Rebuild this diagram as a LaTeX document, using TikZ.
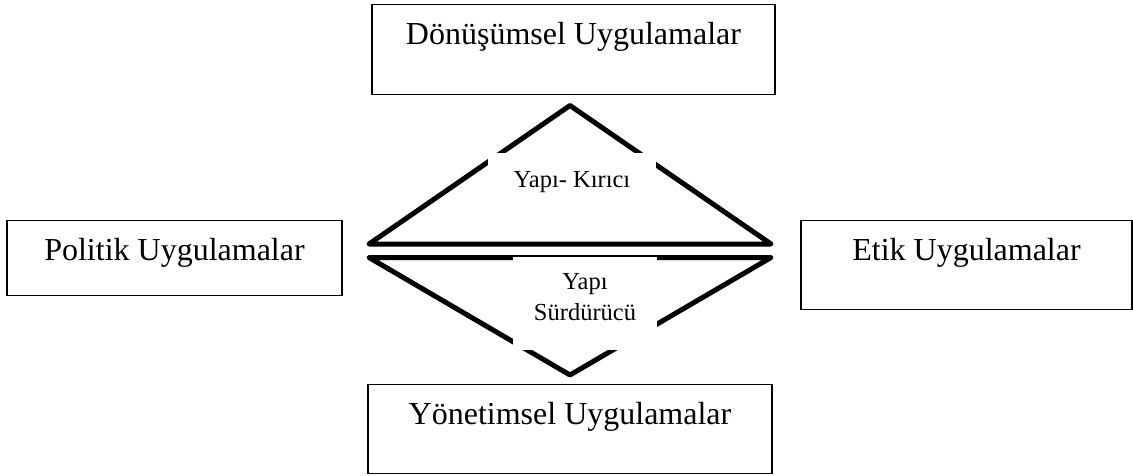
\documentclass[tikz,border=0pt]{standalone}
\usepackage{fontspec}
\setmainfont{Liberation Serif}
\usepackage{tikz}

\begin{document}
\begin{tikzpicture}[
                    x=1pt,
                    y=-1pt,
                    kutu/.style={draw, line width=1.3pt, inner xsep=0pt, inner ysep=0pt,
                                 anchor=north, text height=40pt,
                                 font=\fontsize{32}{38}\selectfont},
                    etiket/.style={fill=white, inner xsep=0pt, inner ysep=0pt,
                                   anchor=north, font=\fontsize{24.5}{31}\selectfont},
                    kalin/.style={line width=5pt, line join=round}
                ]
                \useasboundingbox (0,0) rectangle (1133,475);

                \coordinate (ust) at (570,105.5);
                \coordinate (usol) at (369,244);
                \coordinate (usag) at (771,244);
                \coordinate (alt) at (570,375);
                \coordinate (asol) at (369,257.5);
                \coordinate (asag) at (771,257.5);

                \draw[kalin] (usol) -- (ust) -- (usag) -- cycle;
                \draw[kalin] (asol) -- (alt) -- (asag) -- cycle;

                \node (donusum) [kutu, minimum width=403pt, text depth=50pt] at (573.5,4) {Dönüşümsel Uygulamalar};
                \node (politik) [kutu, minimum width=335pt, text depth=35pt] at (174.5,220) {Politik Uygulamalar};
                \node (etik) [kutu, minimum width=331pt, text depth=49pt] at (966.5,220) {Etik Uygulamalar};
                \node (yonetim) [kutu, minimum width=404pt, text depth=49pt] at (570,384) {Yönetimsel Uygulamalar};

                \node (kirici) [etiket, minimum width=168pt, text height=34pt, text depth=20pt] at (572,153) {Yapı- Kırıcı};
                \node (surdurucu) [etiket, minimum width=144pt, text height=63pt, text depth=30pt] at (585,257)
                    {\begin{tabular}[b]{@{}c@{}}Yapı\\Sürdürücü\end{tabular}};
            \end{tikzpicture}
\end{document}
